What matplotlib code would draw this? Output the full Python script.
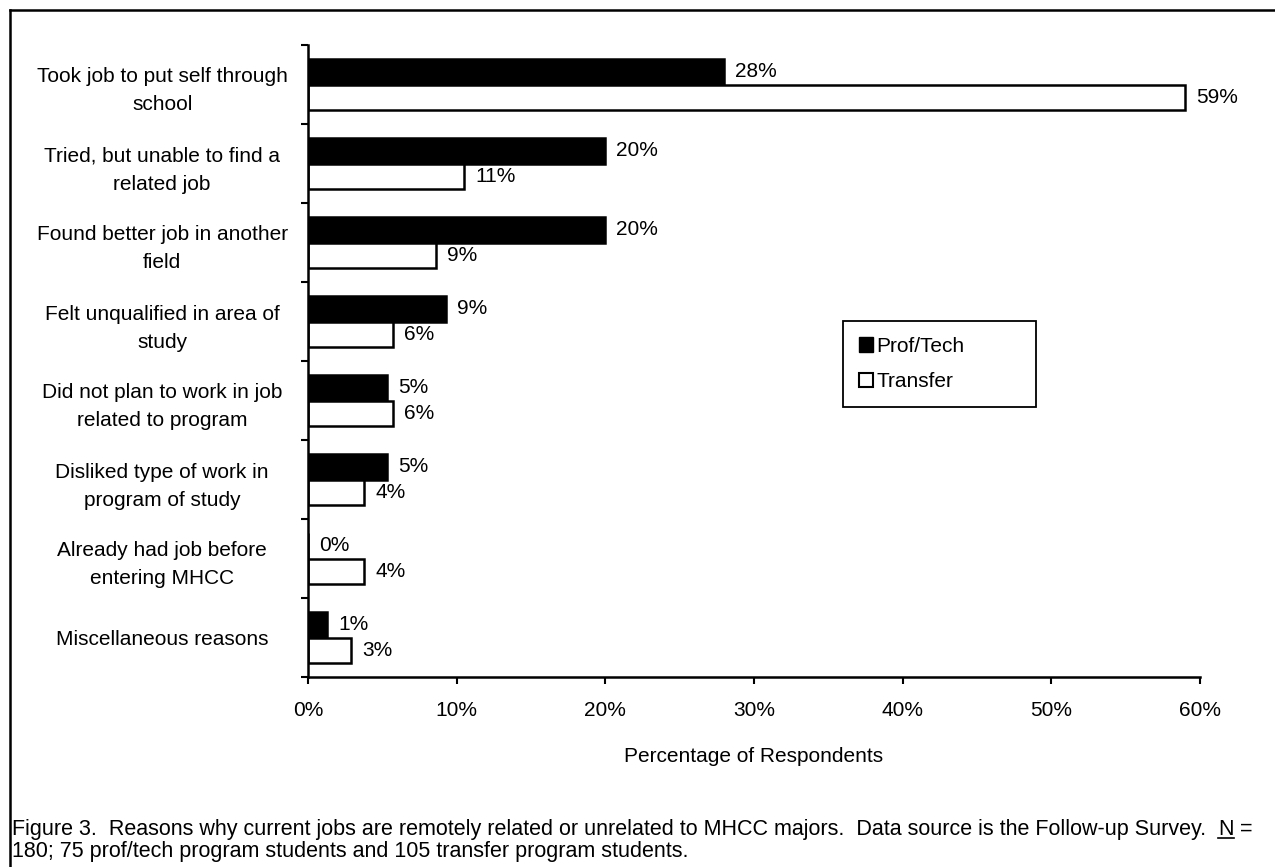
import matplotlib
matplotlib.use("Agg")
import matplotlib.pyplot as plt
from matplotlib.lines import Line2D
from matplotlib.patches import Patch
import numpy as np

plt.rcParams["font.family"] = ["Liberation Sans", "DejaVu Sans"]

reasons = [
    "Took job to put self through\nschool",
    "Tried, but unable to find a\nrelated job",
    "Found better job in another\nfield",
    "Felt unqualified in area of\nstudy",
    "Did not plan to work in job\nrelated to program",
    "Disliked type of work in\nprogram of study",
    "Already had job before\nentering MHCC",
    "Miscellaneous reasons",
]
prof_tech = [28.0, 20.0, 20.0, 9.3, 5.3, 5.3, 0.0, 1.3]
transfer = [59.0, 10.5, 8.6, 5.7, 5.7, 3.8, 3.8, 2.9]
series_names = ["Prof/Tech", "Transfer"]
x_ticks = [0, 10, 20, 30, 40, 50, 60]

W, H = 1275, 867
FS = 15
fig = plt.figure(figsize=(W / 100, H / 100), dpi=100)
ax = fig.add_axes([308 / W, 1 - 677 / H, (1200 - 308) / W, (677 - 45) / H])

centers = np.arange(len(reasons)) + 0.5
bar_h = 0.32
ax.barh(centers - bar_h / 2, prof_tech, height=bar_h, color="black",
        edgecolor="black", linewidth=1.8)
ax.barh(centers + bar_h / 2, transfer, height=bar_h, color="white",
        edgecolor="black", linewidth=1.8)


def pct(v):
    return f"{int(v + 0.5)}%"


for y, v in zip(centers - bar_h / 2, prof_tech):
    ax.annotate(pct(v), (v, y), xytext=(8, 0), textcoords="offset points",
                va="center", ha="left", fontsize=FS)
for y, v in zip(centers + bar_h / 2, transfer):
    ax.annotate(pct(v), (v, y), xytext=(8, 0), textcoords="offset points",
                va="center", ha="left", fontsize=FS)

ax.set_xlim(0, 60)
ax.set_ylim(len(reasons), 0)
ax.set_xticks(x_ticks)
ax.set_xticklabels([f"{t}%" for t in x_ticks], fontsize=FS)
ax.set_yticks(np.arange(len(reasons) + 1))
ax.set_yticklabels([])
ax.set_yticks(centers, minor=True)
ax.set_yticklabels(reasons, minor=True, fontsize=FS, ha="center",
                   linespacing=1.6)
ax.tick_params(axis="y", which="minor", length=0, pad=105)
ax.tick_params(axis="y", which="major", length=5, width=1.5, direction="out")
ax.tick_params(axis="x", length=5, width=1.5, direction="out", pad=12)
for s in ("top", "right"):
    ax.spines[s].set_visible(False)
for s in ("left", "bottom"):
    ax.spines[s].set_linewidth(1.8)
ax.set_xlabel("Percentage of Respondents", fontsize=FS, labelpad=20)

handles = [Patch(facecolor="black", edgecolor="black"),
           Patch(facecolor="white", edgecolor="black", linewidth=1.5)]
leg = fig.legend(handles, series_names, loc="upper left", mode="expand",
                 bbox_to_anchor=(843 / W, 1 - 400 / H, 193 / W, 79 / H),
                 fontsize=FS, handlelength=0.7, handleheight=0.7,
                 handletextpad=0.15, borderpad=0.75, borderaxespad=0,
                 labelspacing=0.8, fancybox=False,
                 edgecolor="black", framealpha=1)
leg.get_frame().set_linewidth(1.3)

# outer frame: left and top edges
fig.add_artist(Line2D([10 / W, 1.0], [1 - 10 / H, 1 - 10 / H], color="black", lw=1.8))
fig.add_artist(Line2D([10 / W, 10 / W], [0.0, 1 - 10 / H], color="black", lw=1.8))

# caption, with an underlined N
cap_size = 15.5
cap_y = 1 - 835 / H
line1 = fig.text(12 / W, cap_y,
                 "Figure 3.  Reasons why current jobs are remotely related or unrelated to "
                 "MHCC majors.  Data source is the Follow-up Survey.  ",
                 fontsize=cap_size, va="baseline", ha="left")
fig.canvas.draw()
r = fig.canvas.get_renderer()
bb = line1.get_window_extent(r)
n_txt = fig.text(bb.x1 / W, cap_y, "N", fontsize=cap_size, va="baseline", ha="left")
nb = n_txt.get_window_extent(r)
under_y = cap_y - 3 / H
fig.add_artist(Line2D([nb.x0 / W, nb.x1 / W], [under_y, under_y], color="black", lw=1.2))
fig.text(nb.x1 / W, cap_y, " =", fontsize=cap_size, va="baseline", ha="left")
fig.text(12 / W, 1 - 857 / H,
         "180; 75 prof/tech program students and 105 transfer program students.",
         fontsize=cap_size, va="baseline", ha="left")

fig.savefig("out.png", dpi=100)
